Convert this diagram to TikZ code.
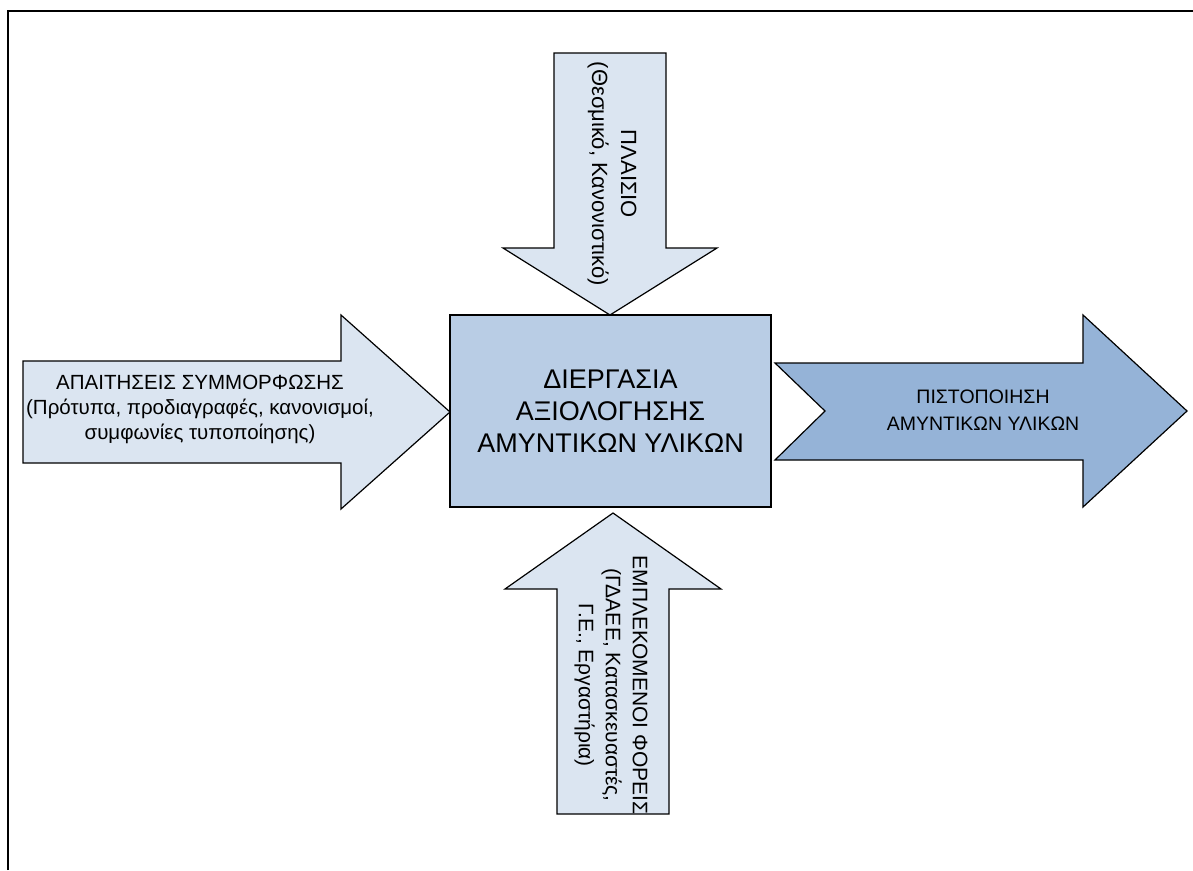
\documentclass[tikz,border=0pt]{standalone}
\usepackage{fontspec}
\setmainfont{Liberation Sans}
\definecolor{palefill}{HTML}{DBE5F1}
\definecolor{boxfill}{HTML}{B9CDE5}
\definecolor{outfill}{HTML}{95B3D7}
\tikzset{
  bigarrow/.style={draw=black,line width=1.2pt,line join=miter},
  arrowtext/.style={align=center,inner sep=0pt},
}
\begin{document}
\begin{tikzpicture}[x=1pt,y=-1pt]
  \useasboundingbox (0,0) rectangle (1193,870);
  \draw[line width=2pt] (8,870) -- (8,11) -- (1193,11);
  \draw[bigarrow,fill=palefill] (554,53) -- (666,53) -- (666,248) -- (717,248)
    -- (610,315) -- (503,248) -- (554,248) -- cycle;
  \draw[bigarrow,fill=palefill] (557,814) -- (669,814) -- (669,589) -- (721,589)
    -- (613,513) -- (505,589) -- (557,589) -- cycle;
  \draw[bigarrow,fill=palefill] (23,361) -- (341,361) -- (341,315) -- (450,412)
    -- (341,509) -- (341,463) -- (23,463) -- cycle;
  \draw[bigarrow,fill=outfill] (775,363) -- (1083,363) -- (1083,315) -- (1187,411)
    -- (1083,507) -- (1083,460) -- (775,460) -- (825,411) -- cycle;
  \node[draw=black,line width=1.2pt,fill=boxfill,minimum width=321pt,minimum height=192pt,
    align=center,font=\fontsize{27}{32}\selectfont] (proc) at (610.5,411)
    {ΔΙΕΡΓΑΣΙΑ\\ΑΞΙΟΛΟΓΗΣΗΣ\\ΑΜΥΝΤΙΚΩΝ ΥΛΙΚΩΝ};
  \node[arrowtext,font=\fontsize{20.5}{25}\selectfont] (reqs) at (200,409)
    {ΑΠΑΙΤΗΣΕΙΣ ΣΥΜΜΟΡΦΩΣΗΣ\\(Πρότυπα, προδιαγραφές, κανονισμοί,\\συμφωνίες τυποποίησης)};
  \node[arrowtext,font=\fontsize{19.5}{27}\selectfont] (cert) at (983,410)
    {ΠΙΣΤΟΠΟΙΗΣΗ\\ΑΜΥΝΤΙΚΩΝ ΥΛΙΚΩΝ};
  \node[arrowtext,rotate=-90,font=\fontsize{22}{29}\selectfont] (ctx) at (612,174)
    {ΠΛΑΙΣΙΟ\\(Θεσμικό, Κανονιστικό)};
  \node[arrowtext,rotate=-90,font=\fontsize{21}{27}\selectfont] (actors) at (611,685)
    {ΕΜΠΛΕΚΟΜΕΝΟΙ ΦΟΡΕΙΣ\\(ΓΔΑΕΕ, Κατασκευαστές,\\Γ.Ε., Εργαστήρια)};
\end{tikzpicture}
\end{document}
